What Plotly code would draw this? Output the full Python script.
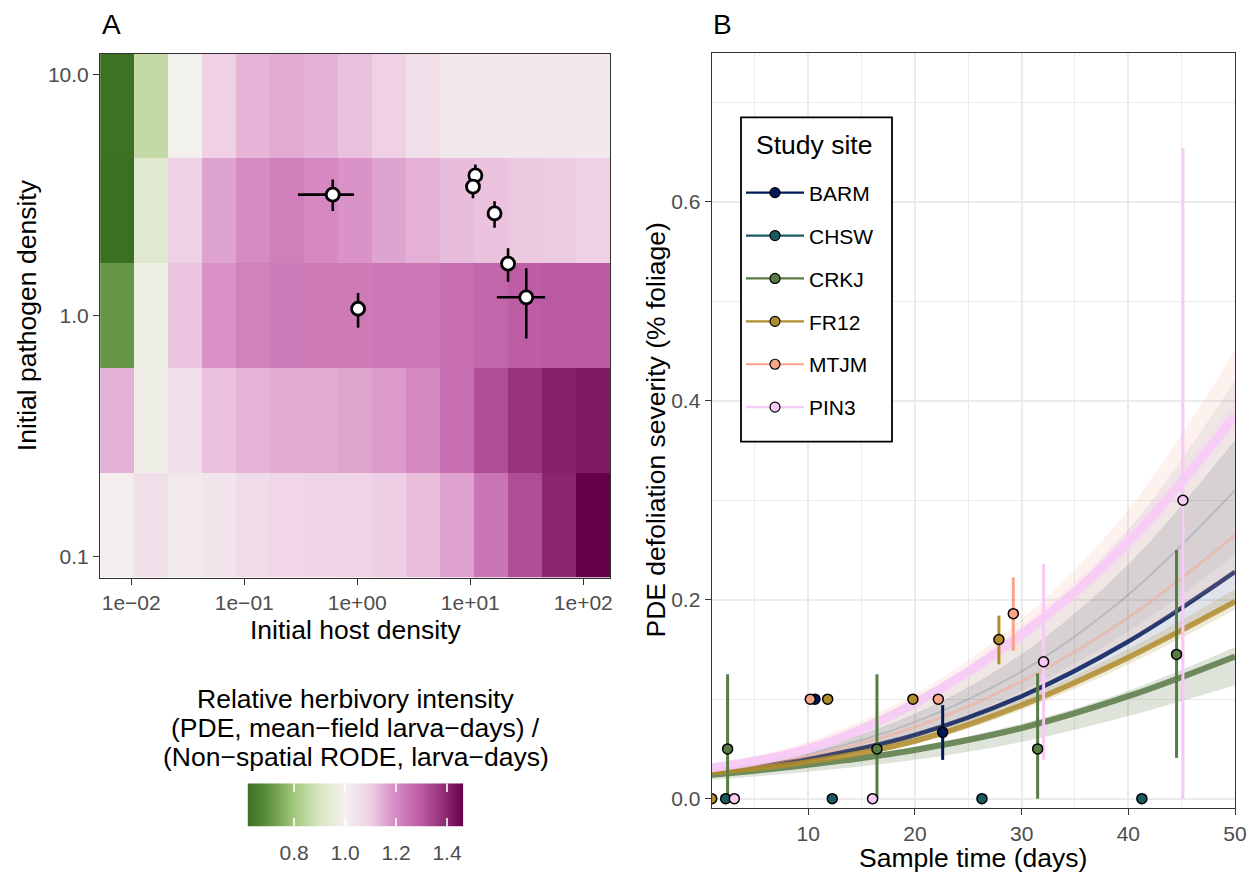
import numpy as np
import plotly.graph_objects as go

W, H = 1252, 873
FONT = "Liberation Sans, Arial, Helvetica, sans-serif"
INK = "#333333"
TICK_TXT = "#4d4d4d"
TITLE_SIZE = 26.5
TEXT_SIZE = 21


def fx(p):
    """pixel column -> paper fraction"""
    return p / W


def fy(p):
    """pixel row (from top) -> paper fraction"""
    return 1 - p / H


# ---------------- Panel A: relative herbivory over the initial-density grid ----------------
host_density = [0.0075, 0.015, 0.03, 0.06, 0.12, 0.24, 0.48, 0.96,
                1.92, 3.84, 7.68, 15.36, 30.72, 61.44, 122.88]
pathogen_density = [0.1353, 0.3679, 1.0, 2.718, 7.389]

# rows follow pathogen_density (low -> high), columns follow host_density
rel_herbivory = [
    [1.008, 1.055, 1.024, 1.040, 1.064, 1.082, 1.085, 1.090, 1.103, 1.125, 1.165, 1.243, 1.325, 1.400, 1.464],
    [1.144, 0.985, 1.055, 1.120, 1.140, 1.151, 1.155, 1.162, 1.176, 1.202, 1.260, 1.323, 1.374, 1.410, 1.420],
    [0.710, 0.980, 1.116, 1.190, 1.217, 1.232, 1.234, 1.234, 1.238, 1.240, 1.260, 1.277, 1.294, 1.302, 1.300],
    [0.618, 0.930, 1.097, 1.164, 1.199, 1.223, 1.204, 1.187, 1.164, 1.146, 1.127, 1.120, 1.111, 1.107, 1.097],
    [0.622, 0.860, 1.000, 1.100, 1.140, 1.155, 1.143, 1.123, 1.100, 1.055, 1.027, 1.027, 1.027, 1.027, 1.027],
]

# observed study sites (estimate and interval on both densities)
obs_host = [0.607, 1.017, 11.1, 10.57, 16.4, 21.6, 31.3]
obs_host_lo = [0.299, 0.95, 10.6, 10.1, 15.6, 20.6, 17.2]
obs_host_hi = [0.936, 1.09, 11.6, 11.0, 17.2, 22.6, 45.9]
obs_path = [3.17, 1.067, 3.81, 3.42, 2.65, 1.64, 1.19]
obs_path_lo = [2.71, 0.891, 3.45, 3.06, 2.31, 1.38, 0.804]
obs_path_hi = [3.66, 1.24, 4.23, 3.80, 2.98, 1.90, 1.57]

# diverging palette anchored at 1 (value -> colour)
scale_values = [0.618, 0.70, 0.80, 0.90, 1.00, 1.10, 1.20, 1.30, 1.40, 1.464]
scale_colors = ["#3c7021", "#5e9140", "#a3c77c", "#d8e6c2", "#f3f1ee",
                "#efd0e5", "#d68ac2", "#bb5ba3", "#8b2670", "#660049"]

# ---------------- Panel B: defoliation through time ----------------
sites = ["BARM", "CHSW", "CRKJ", "FR12", "MTJM", "PIN3"]
site_colors = {
    "BARM": "#011959",
    "CHSW": "#1c5a62",
    "CRKJ": "#587a45",
    "FR12": "#b08c2c",
    "MTJM": "#f8a38a",
    "PIN3": "#f7cbf5",
}

obs_t = {
    "BARM": [10.63, 22.6],
    "CHSW": [2.26, 12.25, 26.28, 41.27],
    "CRKJ": [2.44, 16.44, 31.5, 44.52],
    "FR12": [0.95, 11.82, 19.81, 27.87],
    "MTJM": [10.19, 22.19, 29.22],
    "PIN3": [3.07, 16.03, 32.06, 45.12],
}
obs_sev = {
    "BARM": [0.10, 0.0667],
    "CHSW": [0.0, 0.0, 0.0, 0.0],
    "CRKJ": [0.05, 0.05, 0.05, 0.145],
    "FR12": [0.0, 0.10, 0.10, 0.160],
    "MTJM": [0.10, 0.10, 0.186],
    "PIN3": [0.0, 0.0, 0.1377, 0.300],
}
obs_sev_lo = {
    "BARM": [0.10, 0.039],
    "CHSW": [0.0, 0.0, 0.0, 0.0],
    "CRKJ": [0.0, 0.0, 0.0, 0.041],
    "FR12": [0.0, 0.10, 0.10, 0.135],
    "MTJM": [0.10, 0.10, 0.1485],
    "PIN3": [0.0, 0.0, 0.039, 0.0],
}
obs_sev_hi = {
    "BARM": [0.10, 0.094],
    "CHSW": [0.0, 0.0, 0.0, 0.0],
    "CRKJ": [0.125, 0.125, 0.126, 0.250],
    "FR12": [0.0, 0.10, 0.10, 0.184],
    "MTJM": [0.10, 0.10, 0.2225],
    "PIN3": [0.0, 0.0, 0.236, 0.654],
}

# fitted PDE trajectories: posterior spread (lo / hi) and central path
fit_t = [0.95, 10, 20, 30, 40, 50]
fit_lo = {
    "BARM": [0.026, 0.037, 0.059, 0.094, 0.142, 0.198],
    "CHSW": [0.027, 0.040, 0.066, 0.108, 0.168, 0.245],
    "CRKJ": [0.019, 0.027, 0.039, 0.057, 0.083, 0.114],
    "FR12": [0.025, 0.035, 0.055, 0.089, 0.135, 0.190],
    "MTJM": [0.027, 0.040, 0.065, 0.105, 0.160, 0.225],
    "PIN3": [0.029, 0.047, 0.091, 0.157, 0.247, 0.370],
}
fit_mid = {
    "BARM": [0.027, 0.040, 0.064, 0.103, 0.158, 0.228],
    "CHSW": [0.029, 0.045, 0.077, 0.128, 0.205, 0.310],
    "CRKJ": [0.024, 0.034, 0.049, 0.071, 0.103, 0.143],
    "FR12": [0.026, 0.037, 0.058, 0.094, 0.142, 0.198],
    "MTJM": [0.028, 0.043, 0.072, 0.118, 0.182, 0.265],
    "PIN3": [0.031, 0.050, 0.096, 0.165, 0.258, 0.385],
}
fit_hi = {
    "BARM": [0.030, 0.048, 0.085, 0.145, 0.235, 0.360],
    "CHSW": [0.032, 0.053, 0.095, 0.165, 0.270, 0.420],
    "CRKJ": [0.026, 0.036, 0.052, 0.075, 0.108, 0.152],
    "FR12": [0.028, 0.040, 0.063, 0.100, 0.150, 0.210],
    "MTJM": [0.033, 0.057, 0.105, 0.180, 0.290, 0.450],
    "PIN3": [0.033, 0.053, 0.101, 0.173, 0.270, 0.400],
}
# per-site styling of the fitted band (fill alpha, core width, core alpha)
band_style = {
    "BARM": (0.12, 4.5, 0.85),
    "CHSW": (0.07, 2.0, 0.20),
    "CRKJ": (0.20, 6.0, 0.85),
    "FR12": (0.18, 5.5, 0.85),
    "MTJM": (0.14, 3.0, 0.45),
    "PIN3": (0.22, 9.0, 0.95),
}


def rgba(hex_color, a):
    h = hex_color.lstrip("#")
    r, g, b = int(h[0:2], 16), int(h[2:4], 16), int(h[4:6], 16)
    return f"rgba({r},{g},{b},{a})"


fig = go.Figure()

# ---- heatmap (log10 coordinates on linear axes) ----
z = np.array(rel_herbivory)
zmin, zmax = float(z.min()), float(z.max())
colorscale = [[min(max((v - zmin) / (zmax - zmin), 0.0), 1.0), c]
              for v, c in zip(scale_values, scale_colors)]
colorscale[0][0] = 0.0
colorscale[-1][0] = 1.0

lx = np.log10(host_density)
ly = np.log10(pathogen_density)

fig.add_trace(go.Heatmap(
    x=lx, y=ly, z=z, colorscale=colorscale, zmin=zmin, zmax=zmax,
    showscale=False, xaxis="x", yaxis="y", hoverinfo="skip",
))

ox = np.log10(obs_host)
oy = np.log10(obs_path)
fig.add_trace(go.Scatter(
    x=ox, y=oy, mode="markers", xaxis="x", yaxis="y", showlegend=False,
    marker=dict(size=13, color="white", line=dict(color="black", width=2.8)),
    error_x=dict(type="data", symmetric=False,
                 array=np.log10(obs_host_hi) - ox, arrayminus=ox - np.log10(obs_host_lo),
                 thickness=2.6, width=0, color="black"),
    error_y=dict(type="data", symmetric=False,
                 array=np.log10(obs_path_hi) - oy, arrayminus=oy - np.log10(obs_path_lo),
                 thickness=2.6, width=0, color="black"),
))

# ---- colour key as its own small axis ----
key_x = np.linspace(zmin, zmax, 300)
fig.add_trace(go.Heatmap(
    x=key_x, y=[0.5], z=[key_x], colorscale=colorscale, zmin=zmin, zmax=zmax,
    showscale=False, xaxis="x3", yaxis="y3", hoverinfo="skip",
))

# ---- fitted trajectories ----
for s in sites:
    fill_a, core_w, core_a = band_style[s]
    col = site_colors[s]
    fig.add_trace(go.Scatter(
        x=fit_t, y=fit_lo[s], mode="lines", line=dict(width=0, shape="spline", color=rgba(col, 0)),
        xaxis="x2", yaxis="y2", showlegend=False, hoverinfo="skip",
    ))
    fig.add_trace(go.Scatter(
        x=fit_t, y=fit_hi[s], mode="lines", line=dict(width=0.6, shape="spline", color=rgba(col, fill_a)),
        fill="tonexty", fillcolor=rgba(col, fill_a),
        xaxis="x2", yaxis="y2", showlegend=False, hoverinfo="skip",
    ))
    fig.add_trace(go.Scatter(
        x=fit_t, y=fit_mid[s], mode="lines", line=dict(width=core_w, shape="spline", color=rgba(col, core_a)),
        xaxis="x2", yaxis="y2", showlegend=False, hoverinfo="skip",
    ))

# ---- observation intervals, then points ----
for s in sites:
    v = np.array(obs_sev[s])
    fig.add_trace(go.Scatter(
        x=obs_t[s], y=v, mode="markers", xaxis="x2", yaxis="y2", showlegend=False,
        marker=dict(size=1, color="rgba(0,0,0,0)"), hoverinfo="skip",
        error_y=dict(type="data", symmetric=False,
                     array=np.array(obs_sev_hi[s]) - v, arrayminus=v - np.array(obs_sev_lo[s]),
                     thickness=3, width=0, color=site_colors[s]),
    ))
for s in sites:
    fig.add_trace(go.Scatter(
        x=obs_t[s], y=obs_sev[s], mode="markers", xaxis="x2", yaxis="y2", showlegend=False,
        marker=dict(size=10, color=site_colors[s], line=dict(color="black", width=1.5)),
    ))

# legend entries
for s in sites:
    fig.add_trace(go.Scatter(
        x=[None], y=[None], mode="lines+markers", name=s, legendgroup=s,
        xaxis="x2", yaxis="y2",
        line=dict(color=site_colors[s], width=2.2),
        marker=dict(size=10, color=site_colors[s], line=dict(color="black", width=1.2)),
    ))

# ---------------- layout ----------------
axis_common = dict(
    showline=True, mirror=True, linecolor=INK, linewidth=1.3,
    ticks="outside", ticklen=6, tickwidth=1.2, tickcolor=INK,
    tickfont=dict(family=FONT, size=TEXT_SIZE, color=TICK_TXT),
    zeroline=False,
)

hx = (lx[1] - lx[0]) / 2
hy = (ly[1] - ly[0]) / 2

layout = dict(
    width=W, height=H, template="none",
    paper_bgcolor="white", plot_bgcolor="white",
    margin=dict(l=0, r=0, t=0, b=0),
    font=dict(family=FONT, color="black"),
    xaxis=dict(axis_common, domain=[fx(100.1), fx(610.4)], anchor="y",
               range=[lx[0] - hx, lx[-1] + hx], showgrid=False,
               tickmode="array", tickvals=[-2, -1, 0, 1, 2],
               ticktext=["1e\u221202", "1e\u221201", "1e+00", "1e+01", "1e+02"]),
    yaxis=dict(axis_common, domain=[fy(577.5), fy(53.6)], anchor="x",
               range=[ly[0] - hy, ly[-1] + hy], showgrid=False,
               tickmode="array", tickvals=[-1, 0, 1], ticktext=["0.1", "1.0", "10.0"]),
    xaxis2=dict(axis_common, domain=[fx(711.7), fx(1235)], anchor="y2",
                range=[0.95, 50], tickmode="linear", tick0=0, dtick=10,
                showgrid=True, gridcolor="#ebebeb", gridwidth=1.6,
                minor=dict(tick0=0, dtick=5, showgrid=True, gridcolor="#ebebeb", gridwidth=0.9)),
    yaxis2=dict(axis_common, domain=[fy(808.3), fy(52.7)], anchor="x2",
                range=[-0.0097, 0.75], tickmode="linear", tick0=0, dtick=0.2, tickformat=".1f",
                showgrid=True, gridcolor="#ebebeb", gridwidth=1.6,
                minor=dict(tick0=0, dtick=0.1, showgrid=True, gridcolor="#ebebeb", gridwidth=0.9)),
    xaxis3=dict(domain=[fx(247.7), fx(463.3)], anchor="y3", range=[zmin, zmax],
                showline=False, showgrid=False, zeroline=False,
                tickmode="array", tickvals=[0.8, 1.0, 1.2, 1.4], ticktext=["0.8", "1.0", "1.2", "1.4"],
                ticks="outside", ticklen=7, tickcolor="rgba(0,0,0,0)",
                tickfont=dict(family=FONT, size=TEXT_SIZE, color=TICK_TXT)),
    yaxis3=dict(domain=[fy(826.7), fy(783.3)], anchor="x3", range=[0, 1], visible=False),
    showlegend=True,
    legend=dict(
        x=fx(741), y=fy(172.5), xanchor="left", yanchor="top",
        bgcolor="rgba(0,0,0,0)", borderwidth=0,
        font=dict(family=FONT, size=TEXT_SIZE, color="black"),
        tracegroupgap=12.6, itemwidth=58,
    ),
)
fig.update_layout(**layout)

# legend frame and its title
fig.add_shape(type="rect", xref="paper", yref="paper",
              x0=fx(741), x1=fx(892), y0=fy(441.7), y1=fy(117.3),
              line=dict(color="black", width=1.8), fillcolor="white", layer="above")

# white ticks on the colour key, both edges
for v in [0.8, 1.0, 1.2, 1.4]:
    for y0, y1 in [(0.0, 0.2), (0.8, 1.0)]:
        fig.add_shape(type="line", xref="x3", yref="y3", x0=v, x1=v, y0=y0, y1=y1,
                      line=dict(color="white", width=1.6))


def label(text, x, y, size, angle=0, anchor="center", color="black"):
    fig.add_annotation(text=text, x=fx(x), y=fy(y), xref="paper", yref="paper",
                       showarrow=False, textangle=angle, xanchor=anchor, yanchor="middle",
                       font=dict(family=FONT, size=size, color=color))


label("A", 100, 24, 28, anchor="left")
label("B", 711, 24, 28, anchor="left")
label("Study site", 754, 145, TITLE_SIZE, anchor="left")
label("Initial host density", 355.3, 630, TITLE_SIZE)
label("Initial pathogen density", 26.7, 315.5, TITLE_SIZE, angle=-90)
label("Sample time (days)", 973.4, 858, TITLE_SIZE)
label("PDE defoliation severity (% foliage)", 655, 430.5, TITLE_SIZE, angle=-90)
label("Relative herbivory intensity", 355.5, 699, TITLE_SIZE)
label("(PDE, mean\u2212field larva\u2212days) /", 355.5, 728, TITLE_SIZE)
label("(Non\u2212spatial RODE, larva\u2212days)", 355.5, 757, TITLE_SIZE)

fig.write_html("out.html")
